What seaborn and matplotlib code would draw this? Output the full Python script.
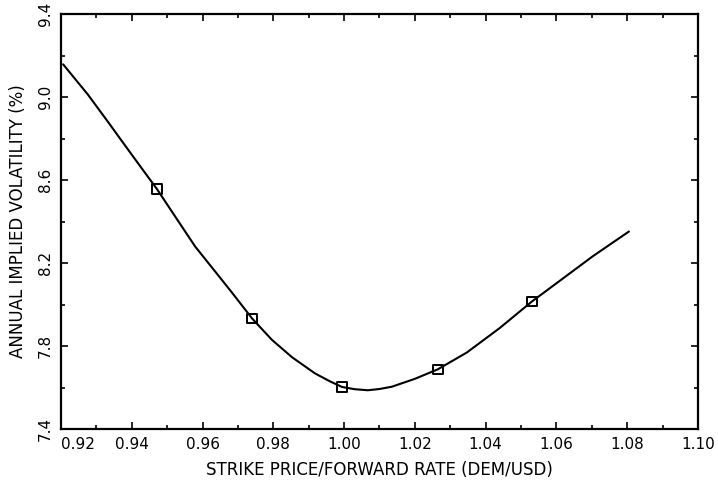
import matplotlib
matplotlib.use("Agg")
import matplotlib.pyplot as plt
import seaborn as sns
import pandas as pd
from matplotlib.ticker import MultipleLocator, FixedLocator

# Observed (marked) points
obs_x = [0.9471, 0.9740, 0.9994, 1.0265, 1.0531]
obs_y = [8.557, 7.933, 7.603, 7.688, 8.015]

# Smooth fitted curve
curve_x = [0.9206, 0.9276, 0.9333, 0.9389, 0.9437, 0.9471, 0.9522, 0.9579,
           0.9655, 0.9683, 0.9740, 0.9796, 0.9853, 0.9918, 0.9960, 0.9994,
           1.0030, 1.0067, 1.0100, 1.0135, 1.0200, 1.0265, 1.0347, 1.0440,
           1.0531, 1.0610, 1.0703, 1.0805]
curve_y = [9.158, 9.012, 8.880, 8.748, 8.636, 8.557, 8.426, 8.280,
           8.118, 8.058, 7.933, 7.830, 7.746, 7.668, 7.630, 7.603,
           7.592, 7.587, 7.593, 7.604, 7.642, 7.688, 7.769, 7.887,
           8.015, 8.115, 8.233, 8.352]

x_ticks = [0.92, 0.94, 0.96, 0.98, 1.00, 1.02, 1.04, 1.06, 1.08, 1.10]
x_labels = ["0.92", "0.94", "0.96", "0.98", "1.00", "1.02", "1.04", "1.06", "1.08", "1.10"]
y_ticks = [7.4, 7.8, 8.2, 8.6, 9.0, 9.4]
y_labels = ["7.4", "7.8", "8.2", "8.6", "9.0", "9.4"]

x_title = "STRIKE PRICE/FORWARD RATE (DEM/USD)"
y_title = "ANNUAL IMPLIED VOLATILITY (%)"

sns.set_style("ticks")
plt.rcParams['font.family'] = ['DejaVu Sans']
plt.rcParams['text.color'] = 'black'
plt.rcParams['axes.labelcolor'] = 'black'
plt.rcParams['xtick.color'] = 'black'
plt.rcParams['ytick.color'] = 'black'

fig = plt.figure(figsize=(7.18, 4.87), dpi=100)
ax = fig.add_axes([0.085, 0.119, 0.887, 0.852])

curve_df = pd.DataFrame({"x": curve_x, "y": curve_y})
obs_df = pd.DataFrame({"x": obs_x, "y": obs_y})

sns.lineplot(data=curve_df, x="x", y="y", ax=ax, color="black", linewidth=1.5,
             sort=False, estimator=None)
sns.scatterplot(data=obs_df, x="x", y="y", ax=ax, marker="s", s=45,
                facecolors="none", edgecolors="black", linewidth=1.4, zorder=3)

ax.set_xlim(0.92, 1.10)
ax.set_ylim(7.4, 9.4)
ax.xaxis.set_major_locator(FixedLocator(x_ticks))
ax.yaxis.set_major_locator(FixedLocator(y_ticks))
ax.xaxis.set_minor_locator(MultipleLocator(0.01))
ax.yaxis.set_minor_locator(MultipleLocator(0.2))
ax.set_xticklabels(x_labels, fontsize=11, color="black")
ax.set_yticklabels(y_labels, fontsize=11, rotation=90, va="center", color="black")
ax.get_xticklabels()[0].set_horizontalalignment("left")

ax.tick_params(which="both", direction="in", top=True, right=True, width=1.2,
               colors="black")
ax.tick_params(which="major", length=5, pad=6)
ax.tick_params(which="minor", length=3)
for sp in ax.spines.values():
    sp.set_linewidth(1.6)
    sp.set_color("black")

ax.set_xlabel(x_title, fontsize=12, labelpad=6, color="black")
ax.set_ylabel(y_title, fontsize=12, labelpad=8, color="black")

fig.savefig("out.png", dpi=100)
